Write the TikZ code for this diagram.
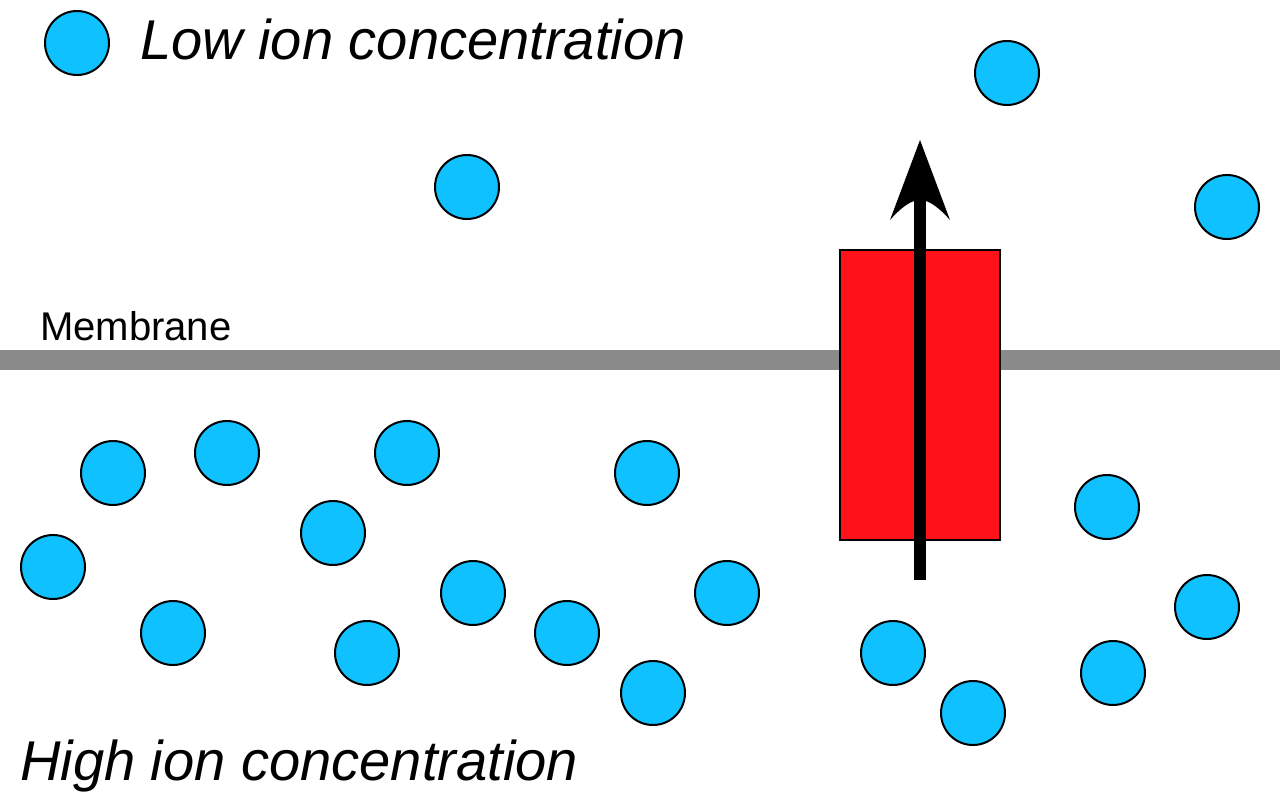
\documentclass[tikz,border=0pt]{standalone}
\usepackage{fontspec}
\setmainfont{Liberation Sans}
\definecolor{ioncol}{RGB}{16,193,255}
\definecolor{channelcol}{RGB}{255,17,25}
\definecolor{membranecol}{RGB}{138,138,138}
\tikzset{
  ion/.style={circle,draw=black,fill=ioncol,line width=0.2cm,minimum size=6.4cm,inner sep=0pt},
  biglabel/.style={anchor=base west,inner sep=0pt,font=\fontsize{159.6pt}{159.6pt}\selectfont\itshape}
}
\begin{document}
\begin{tikzpicture}[x=0.1cm,y=-0.1cm]
  \useasboundingbox (0,0) rectangle (1280,800);
  \fill[membranecol] (0,350) rectangle (1280,370);
  \node[draw=black,fill=channelcol,line width=0.2cm,minimum width=16cm,minimum height=29cm,inner sep=0pt] (channel) at (920,395) {};
  % arrow
  \coordinate (arrowstart) at (920,580);
  \coordinate (arrowneck) at (920,195);
  \fill[black] ([xshift=-0.6cm]arrowstart) rectangle ([xshift=0.6cm]arrowneck);
  \fill[black] (920,140) -- (950,220) .. controls (941,210) and (934,204) .. (926,201) -- (914,201) .. controls (906,204) and (899,210) .. (890,220) -- cycle;

  \node[ion] (legend) at (77,43) {};
  \node[ion] (up1) at (467,187) {};
  \node[ion] (up2) at (1007,73) {};
  \node[ion] (up3) at (1227,207) {};
  \node[ion] (low1) at (113,473) {};
  \node[ion] (low2) at (227,453) {};
  \node[ion] (low3) at (407,453) {};
  \node[ion] (low4) at (647,473) {};
  \node[ion] (low5) at (333,533) {};
  \node[ion] (low6) at (53,567) {};
  \node[ion] (low7) at (173,633) {};
  \node[ion] (low8) at (367,653) {};
  \node[ion] (low9) at (473,593) {};
  \node[ion] (low10) at (567,633) {};
  \node[ion] (low11) at (653,693) {};
  \node[ion] (low12) at (727,593) {};
  \node[ion] (low13) at (893,653) {};
  \node[ion] (low14) at (973,713) {};
  \node[ion] (low15) at (1107,507) {};
  \node[ion] (low16) at (1207,607) {};
  \node[ion] (low17) at (1113,673) {};

  \node[biglabel] (lowlabel) at (140,59) {Low ion concentration};
  \node[biglabel] (highlabel) at (20,780) {High ion concentration};
  \node[anchor=base west,inner sep=0pt,font=\fontsize{114pt}{114pt}\selectfont] (membranelabel) at (40,340) {Membrane};
\end{tikzpicture}
\end{document}
